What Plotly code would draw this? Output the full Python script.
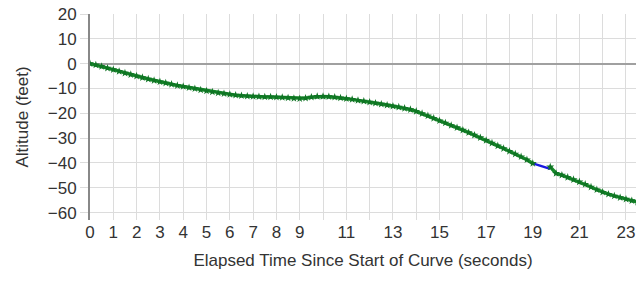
import plotly.graph_objects as go

# Elapsed time (seconds) and altitude (feet)
time_s = [0, 0.25, 0.5, 0.75, 1, 1.25, 1.5, 1.75, 2, 2.25, 2.5, 2.75, 3, 3.25, 3.5, 3.75,
          4, 4.25, 4.5, 4.75, 5, 5.25, 5.5, 5.75, 6, 6.25, 6.5, 6.75, 7, 7.25, 7.5, 7.75,
          8, 8.25, 8.5, 8.75, 9, 9.25, 9.5, 9.75, 10, 10.25, 10.5, 10.75, 11, 11.25, 11.5, 11.75,
          12, 12.25, 12.5, 12.75, 13, 13.25, 13.5, 13.75, 14, 14.25, 14.5, 14.75, 15, 15.25, 15.5, 15.75,
          16, 16.25, 16.5, 16.75, 17, 17.25, 17.5, 17.75, 18, 18.25, 18.5, 18.75, 19, 19.25, 19.5, 19.75,
          20, 20.25, 20.5, 20.75, 21, 21.25, 21.5, 21.75, 22, 22.25, 22.5, 22.75, 23, 23.25, 23.5]
altitude_ft = [0, -0.5, -1.1, -1.8, -2.4, -3.1, -3.8, -4.4, -5.0, -5.6, -6.2, -6.8, -7.3, -7.8, -8.3, -8.8,
               -9.2, -9.7, -10.1, -10.6, -11.0, -11.4, -11.8, -12.1, -12.4, -12.7, -12.9, -13.1, -13.2, -13.3, -13.4, -13.4,
               -13.5, -13.6, -13.8, -14.0, -14.1, -13.9, -13.5, -13.2, -13.2, -13.3, -13.5, -13.8, -14.1, -14.4, -14.8, -15.1,
               -15.5, -15.9, -16.3, -16.7, -17.1, -17.5, -18.0, -18.5, -19.2, -20.1, -21.0, -22.0, -23.0, -23.9, -24.9, -25.8,
               -26.8, -27.8, -28.8, -29.8, -30.9, -32.0, -33.1, -34.2, -35.3, -36.4, -37.5, -38.7, -40.2, None, None, -41.6,
               -44.2, -44.9, -45.8, -46.7, -47.6, -48.6, -49.7, -50.8, -51.8, -52.6, -53.3, -54.0, -54.6, -55.2, -55.8]
# Segment where the curve is drawn in blue
gap_time = [19.0, 19.75]
gap_alt = [-40.2, -42.4]

x_ticks = list(range(0, 24))
x_ticktext = [str(v) if (v < 10 or v % 2 == 1) else "" for v in x_ticks]
y_ticks = [20, 10, 0, -10, -20, -30, -40, -50, -60]

fig = go.Figure()
fig.add_trace(go.Scatter(x=gap_time, y=gap_alt, mode="lines",
                         line=dict(color="#1a1ae0", width=2.5), showlegend=False))
fig.add_trace(go.Scatter(x=time_s, y=altitude_ft, mode="lines+markers", connectgaps=False,
                         line=dict(color="#178a2a", width=3.5),
                         marker=dict(symbol="star", size=6, color="#0f7424"),
                         showlegend=False))

font_family = "Liberation Sans, Arial, sans-serif"
fig.update_layout(
    width=636, height=281,
    margin=dict(l=90, r=0, t=14, b=61, autoexpand=False),
    paper_bgcolor="white", plot_bgcolor="white",
    font=dict(family=font_family, size=17, color="#333333"),
    xaxis=dict(range=[0, 23.43], tickvals=x_ticks, ticktext=x_ticktext,
               automargin=False,
               showgrid=True, gridcolor="#dcdcdc", gridwidth=1,
               zeroline=False, showline=False,
               ticks="", ticklen=0,
               tickfont=dict(size=17, color="#333333"),
               title=dict(text="Elapsed Time Since Start of Curve (seconds)",
                          font=dict(size=17, color="#333333"), standoff=13)),
    yaxis=dict(range=[-63, 20], tickvals=y_ticks,
               automargin=False,
               showgrid=True, gridcolor="#dcdcdc", gridwidth=1,
               zeroline=True, zerolinecolor="#a0a0a0", zerolinewidth=1.5,
               showline=True, linecolor="#888888", linewidth=2,
               ticks="outside", ticklen=8, tickcolor="#dcdcdc",
               tickfont=dict(size=17, color="#333333"),
               title=dict(text="Altitude (feet)", font=dict(size=17, color="#333333"), standoff=15)),
)

fig.write_html("out.html", config={"displayModeBar": False},
               post_script="document.body.style.margin='0';document.body.style.padding='0';")
